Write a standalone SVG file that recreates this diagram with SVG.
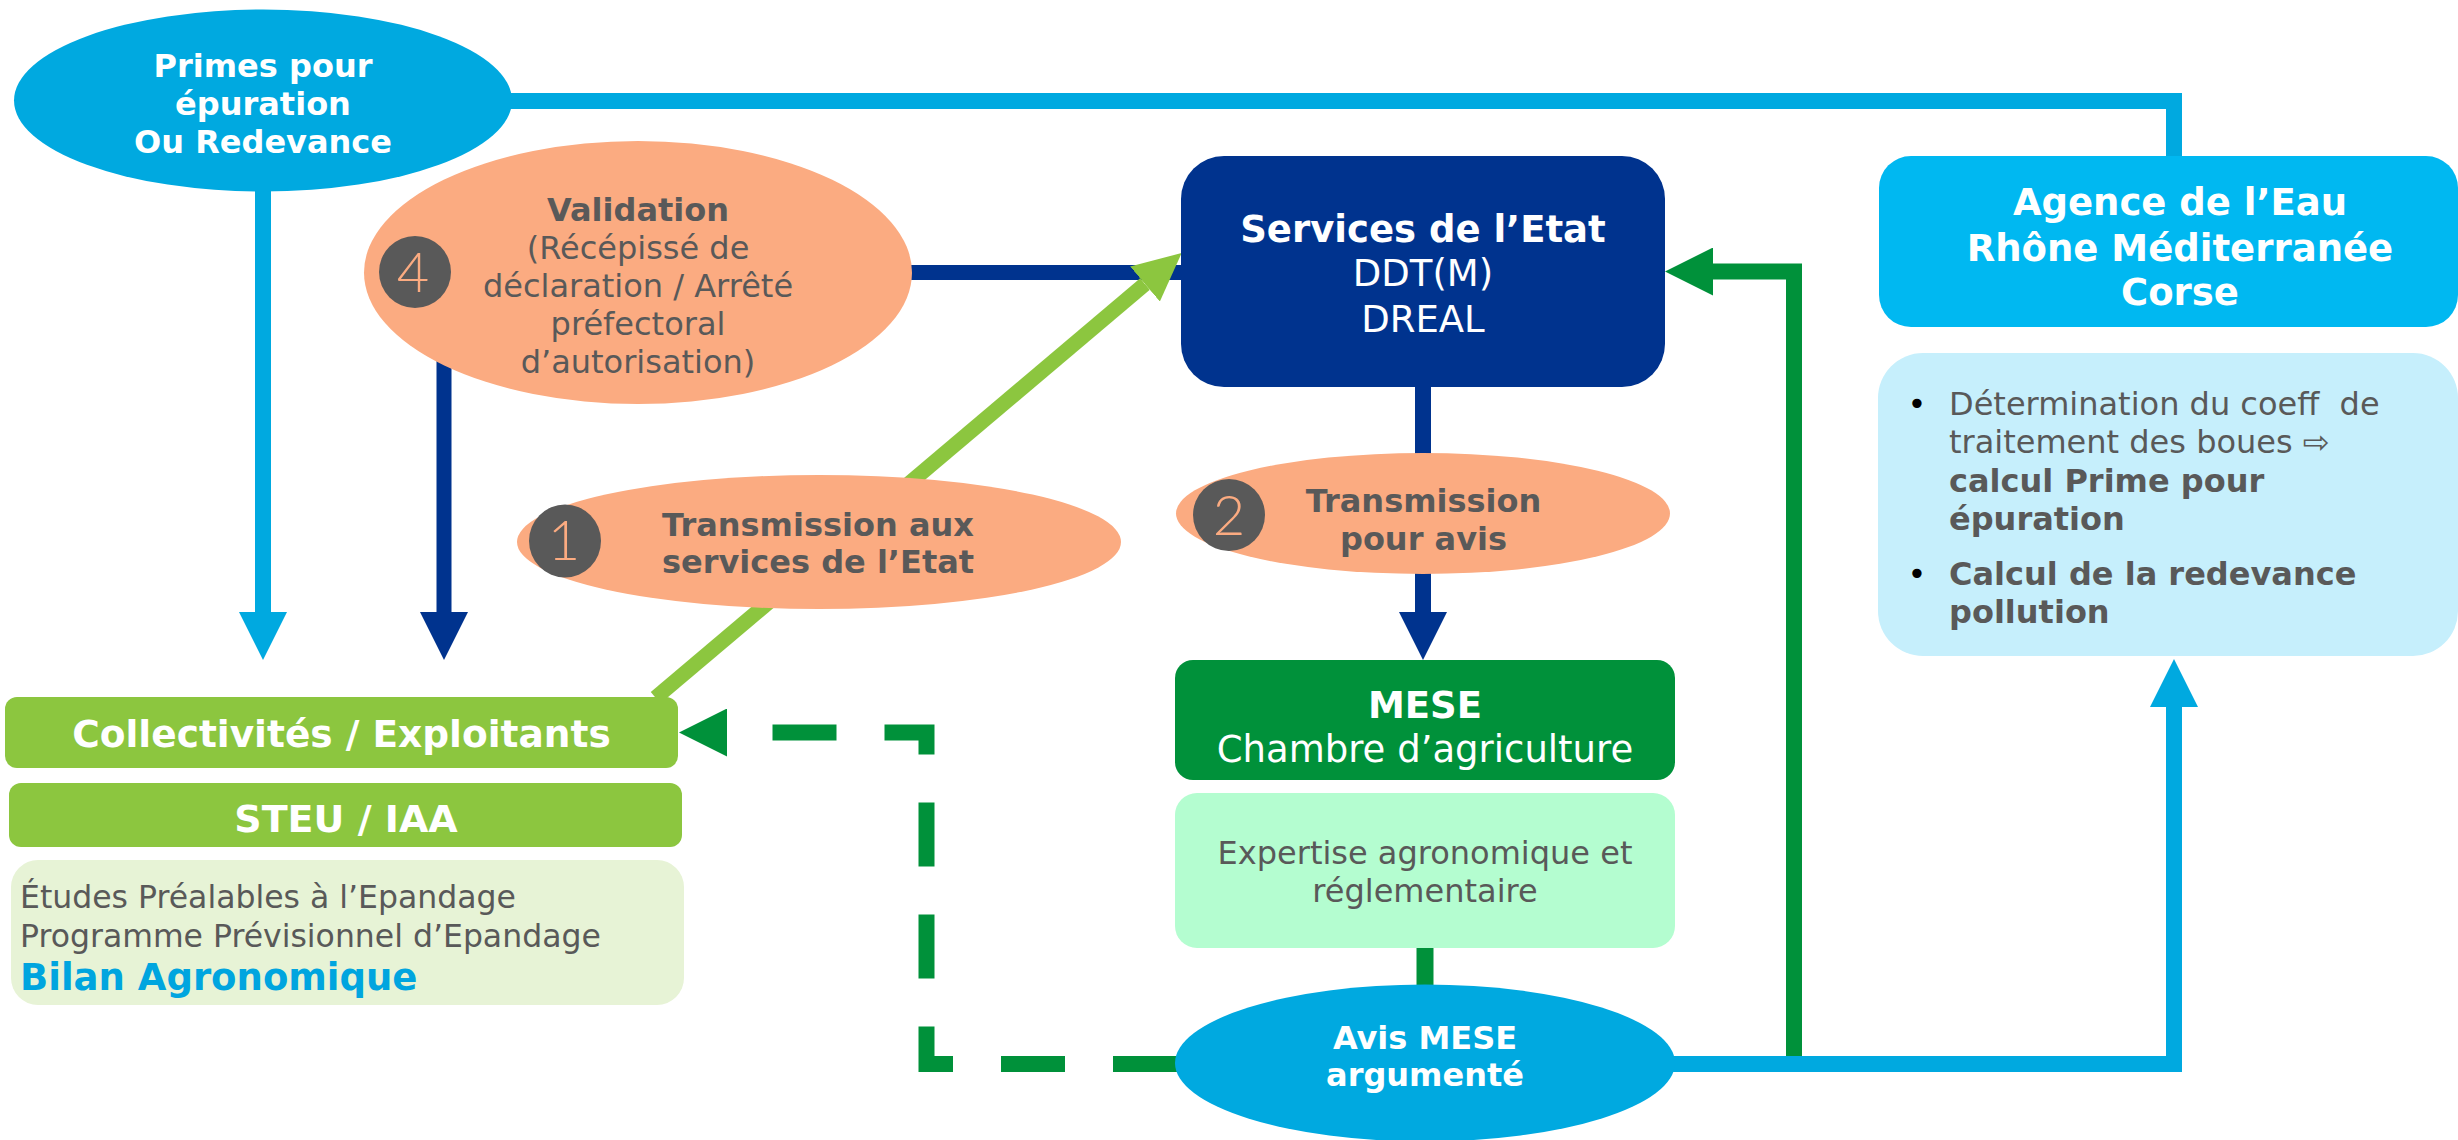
<svg xmlns="http://www.w3.org/2000/svg" width="2458" height="1140" viewBox="0 0 2458 1140">
<style>
text{font-family:"DejaVu Sans","Liberation Sans",sans-serif;}
.b{font-weight:bold;}
.w{fill:#ffffff;}
.g{fill:#595959;}
.m{text-anchor:middle;}
.num{font-family:Lato,"Open Sans",sans-serif;font-weight:300;font-size:56px;fill:#FBAB81;text-anchor:middle;}
.salmon{fill:#FBAB81;}
.disc{fill:#595959;}
.ln{fill:none;stroke-linejoin:miter;}
</style>
<defs>
<marker id="aLB" markerUnits="userSpaceOnUse" markerWidth="48" markerHeight="48" refX="0" refY="24" orient="auto"><path d="M0,0 L48,24 L0,48 Z" fill="#00A9E0"/></marker>
<marker id="aDB" markerUnits="userSpaceOnUse" markerWidth="48" markerHeight="48" refX="0" refY="24" orient="auto"><path d="M0,0 L48,24 L0,48 Z" fill="#00338E"/></marker>
<marker id="aLG" markerUnits="userSpaceOnUse" markerWidth="48" markerHeight="48" refX="0" refY="24" orient="auto"><path d="M0,1 L48,24 L0,47 Z" fill="#8CC63F"/></marker>
<marker id="aG" markerUnits="userSpaceOnUse" markerWidth="48" markerHeight="48" refX="0" refY="24" orient="auto"><path d="M0,0 L48,24 L0,48 Z" fill="#00913A"/></marker>
</defs>
<rect width="2458" height="1140" fill="#ffffff"/>

<g id="connectors">
<path class="ln" d="M500,101 H2174 V157" stroke="#00A9E0" stroke-width="16"/>
<path class="ln" d="M263,185 V612" stroke="#00A9E0" stroke-width="16" marker-end="url(#aLB)"/>
<path class="ln" d="M1182,272.5 H444 V612" stroke="#00338E" stroke-width="15" marker-end="url(#aDB)"/>
<path class="ln" d="M1423,386 V612" stroke="#00338E" stroke-width="16" marker-end="url(#aDB)"/>
<path class="ln" d="M655.6,697.8 L1145,284" stroke="#8CC63F" stroke-width="15" marker-end="url(#aLG)"/>
<path class="ln" d="M1425,946 V990" stroke="#00913A" stroke-width="17"/>
<path class="ln" d="M1794,1064 V271.5 H1713" stroke="#00913A" stroke-width="16" marker-end="url(#aG)"/>
<path class="ln" d="M1670,1064 H2174 V707" stroke="#00A9E0" stroke-width="16" marker-end="url(#aLB)"/>
<path class="ln" d="M1177,1064 H926.5 V732.5 H727" stroke="#00913A" stroke-width="16" stroke-dasharray="64 48" marker-end="url(#aG)"/>
</g>

<g id="primes">
<ellipse cx="263" cy="100.5" rx="249" ry="91" fill="#00A9E0"/>
<text class="b w m" font-size="32"><tspan x="263" y="77">Primes pour</tspan><tspan x="263" y="115">épuration</tspan><tspan x="263" y="153">Ou Redevance</tspan></text>
</g>

<g id="validation">
<ellipse cx="638" cy="272.5" rx="274" ry="131.5" class="salmon"/>
<ellipse cx="415" cy="272" rx="36" ry="36" class="disc"/>
<text class="num" x="413" y="292">4</text>
<text class="g m" font-size="32"><tspan class="b" x="638" y="221">Validation</tspan><tspan x="638" y="259">(Récépissé de</tspan><tspan x="638" y="297">déclaration / Arrêté</tspan><tspan x="638" y="335">préfectoral</tspan><tspan x="638" y="373">d’autorisation)</tspan></text>
</g>

<g id="services">
<rect x="1181" y="156" width="484" height="231" rx="43" fill="#00338E"/>
<text class="w m" font-size="37"><tspan class="b" x="1423" y="242">Services de l’Etat</tspan><tspan x="1423" y="286">DDT(M)</tspan><tspan x="1423" y="332">DREAL</tspan></text>
</g>

<g id="agence">
<rect x="1879" y="156" width="579" height="171" rx="32" fill="#00B8F1"/>
<text class="b w m" font-size="37"><tspan x="2180" y="215">Agence de l’Eau</tspan><tspan x="2180" y="261">Rhône Méditerranée</tspan><tspan x="2180" y="305">Corse</tspan></text>
</g>

<g id="agence-details">
<rect x="1878" y="353" width="580" height="303" rx="45" fill="#C6EFFC"/>
<text font-size="32" fill="#000000" class="m"><tspan x="1917" y="415">•</tspan><tspan x="1917" y="585">•</tspan></text>
<text class="g" font-size="32"><tspan x="1949" y="415">Détermination du coeff&#160; de</tspan><tspan x="1949" y="453">traitement des boues ⇨</tspan><tspan class="b" x="1949" y="492">calcul Prime pour</tspan><tspan class="b" x="1949" y="530">épuration</tspan><tspan class="b" x="1949" y="585">Calcul de la redevance</tspan><tspan class="b" x="1949" y="623">pollution</tspan></text>
</g>

<g id="transmission1">
<ellipse cx="819" cy="542" rx="302" ry="67" class="salmon"/>
<ellipse cx="565" cy="541" rx="36" ry="36.5" class="disc"/>
<text class="num" x="564" y="560">1</text>
<text class="b g m" font-size="32"><tspan x="818" y="536">Transmission aux</tspan><tspan x="818" y="573">services de l’Etat</tspan></text>
</g>

<g id="transmission2">
<ellipse cx="1423" cy="513.5" rx="247" ry="60.5" class="salmon"/>
<ellipse cx="1229" cy="515" rx="36" ry="36" class="disc"/>
<text class="num" x="1229" y="535">2</text>
<text class="b g m" font-size="32"><tspan x="1423.5" y="512">Transmission</tspan><tspan x="1423.5" y="550">pour avis</tspan></text>
</g>

<g id="collectivites">
<rect x="5" y="697" width="673" height="71" rx="12" fill="#8CC63F"/>
<text class="b w m" font-size="37.5" x="341.5" y="747">Collectivités / Exploitants</text>
</g>

<g id="steu">
<rect x="9" y="783" width="673" height="64" rx="12" fill="#8CC63F"/>
<text class="b w m" font-size="38" x="346" y="832">STEU / IAA</text>
</g>

<g id="etudes">
<rect x="11" y="860" width="673" height="145" rx="27" fill="#E7F3D6"/>
<text class="g" font-size="31.5"><tspan x="20" y="908">Études Préalables à l’Epandage</tspan><tspan x="20" y="947">Programme Prévisionnel d’Epandage</tspan></text>
<text class="b" font-size="37" fill="#00A5DF" x="20" y="990">Bilan Agronomique</text>
</g>

<g id="mese">
<rect x="1175" y="660" width="500" height="120" rx="18" fill="#00913A"/>
<text class="w m" font-size="37"><tspan class="b" x="1425" y="718">MESE</tspan><tspan x="1425" y="762">Chambre d’agriculture</tspan></text>
</g>

<g id="expertise">
<rect x="1175" y="793" width="500" height="155" rx="22" fill="#B4FDD0"/>
<text class="g m" font-size="32"><tspan x="1425" y="864">Expertise agronomique et</tspan><tspan x="1425" y="902">réglementaire</tspan></text>
</g>

<g id="avis">
<ellipse cx="1425" cy="1063" rx="250" ry="78.5" fill="#00A9E0"/>
<text class="b w m" font-size="32"><tspan x="1425" y="1049">Avis MESE</tspan><tspan x="1425" y="1086">argumenté</tspan></text>
</g>
</svg>
